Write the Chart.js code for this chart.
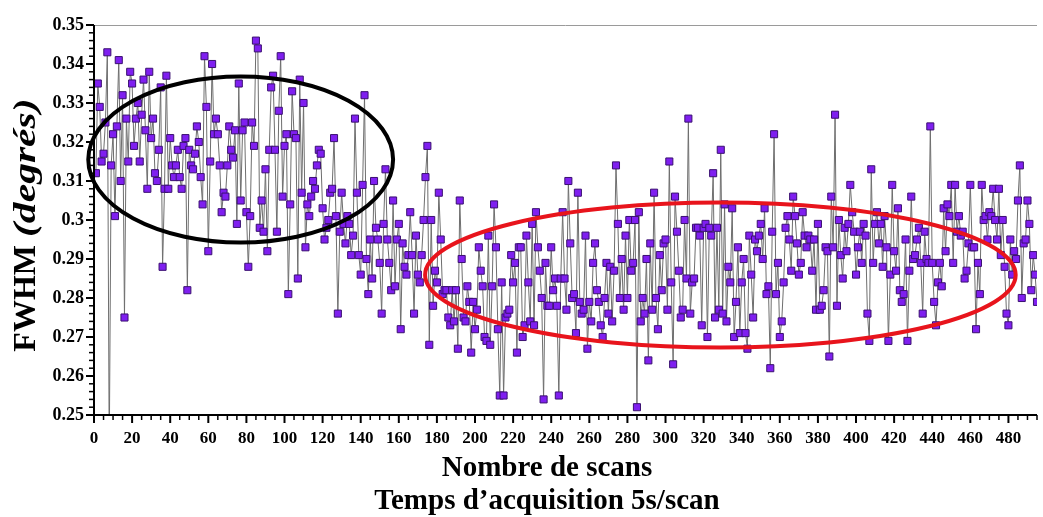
<!DOCTYPE html>
<html><head><meta charset="utf-8">
<script src="https://cdn.jsdelivr.net/npm/chart.js@4/dist/chart.umd.min.js"></script>
<style>html,body{margin:0;padding:0;background:#fff;overflow:hidden}#wrap{width:1043px;height:517px;position:relative}</style>
</head><body><div id="wrap"><canvas id="c" width="1043" height="517"></canvas></div>
<script>
const firstScan = 1;
const fwhmScans001to100 = [
0.312,0.335,0.329,0.315,0.317,0.325,0.343,0.240,0.314,0.322,
0.301,0.324,0.341,0.310,0.332,0.275,0.326,0.315,0.338,0.335,
0.319,0.326,0.330,0.315,0.327,0.336,0.323,0.308,0.338,0.321,
0.326,0.312,0.310,0.318,0.334,0.288,0.308,0.337,0.308,0.321,
0.314,0.311,0.314,0.318,0.311,0.308,0.319,0.321,0.282,0.318,
0.314,0.313,0.317,0.324,0.320,0.311,0.304,0.342,0.329,0.292,
0.315,0.340,0.322,0.326,0.322,0.314,0.302,0.307,0.306,0.314,
0.324,0.318,0.316,0.323,0.299,0.335,0.305,0.323,0.325,0.302,
0.288,0.301,0.325,0.319,0.346,0.344,0.298,0.305,0.297,0.313,
0.292,0.318,0.334,0.337,0.318,0.297,0.328,0.342,0.306,0.319];
const fwhmScans101to200 = [
0.322,0.281,0.304,0.333,0.322,0.321,0.285,0.336,0.307,0.330,
0.293,0.304,0.301,0.306,0.310,0.308,0.314,0.318,0.317,0.303,
0.295,0.298,0.300,0.307,0.308,0.321,0.301,0.276,0.297,0.307,
0.299,0.294,0.301,0.299,0.291,0.296,0.326,0.307,0.291,0.286,
0.309,0.332,0.290,0.281,0.295,0.285,0.310,0.298,0.295,0.289,
0.276,0.299,0.313,0.295,0.289,0.282,0.305,0.283,0.295,0.299,
0.272,0.294,0.288,0.286,0.291,0.302,0.291,0.276,0.296,0.286,
0.284,0.291,0.300,0.311,0.319,0.268,0.300,0.278,0.287,0.284,
0.307,0.295,0.281,0.282,0.282,0.275,0.273,0.282,0.274,0.282,
0.267,0.305,0.290,0.275,0.274,0.283,0.279,0.266,0.279,0.272];
const fwhmScans201to300 = [
0.277,0.293,0.287,0.283,0.270,0.269,0.296,0.268,0.283,0.304,
0.293,0.272,0.255,0.284,0.255,0.275,0.276,0.277,0.291,0.284,
0.289,0.266,0.293,0.293,0.270,0.273,0.296,0.284,0.274,0.299,
0.273,0.302,0.293,0.287,0.280,0.254,0.289,0.278,0.278,0.293,
0.282,0.285,0.278,0.255,0.285,0.302,0.285,0.277,0.310,0.294,
0.280,0.281,0.271,0.307,0.279,0.276,0.277,0.296,0.267,0.279,
0.274,0.289,0.294,0.282,0.279,0.273,0.270,0.280,0.289,0.276,
0.288,0.274,0.287,0.314,0.299,0.280,0.290,0.277,0.296,0.280,
0.300,0.287,0.289,0.300,0.252,0.302,0.274,0.280,0.276,0.290,
0.264,0.294,0.277,0.307,0.280,0.272,0.291,0.282,0.294,0.295];
const fwhmScans301to400 = [
0.277,0.315,0.284,0.263,0.306,0.297,0.287,0.275,0.277,0.300,
0.285,0.326,0.276,0.284,0.285,0.298,0.298,0.296,0.273,0.298,
0.299,0.270,0.298,0.296,0.312,0.275,0.298,0.277,0.318,0.276,
0.304,0.274,0.288,0.284,0.303,0.270,0.279,0.293,0.271,0.284,
0.290,0.271,0.267,0.296,0.286,0.275,0.295,0.292,0.296,0.299,
0.290,0.303,0.281,0.283,0.262,0.297,0.322,0.281,0.289,0.270,
0.274,0.284,0.298,0.301,0.295,0.287,0.306,0.301,0.294,0.286,
0.289,0.302,0.296,0.293,0.296,0.295,0.287,0.295,0.277,0.299,
0.277,0.278,0.282,0.293,0.292,0.265,0.306,0.293,0.327,0.278,
0.300,0.291,0.285,0.298,0.292,0.299,0.309,0.302,0.297,0.286];
const fwhmScans401to495 = [
0.293,0.297,0.289,0.299,0.296,0.276,0.269,0.313,0.289,0.299,
0.302,0.294,0.299,0.288,0.301,0.293,0.269,0.286,0.309,0.292,
0.287,0.303,0.282,0.279,0.281,0.295,0.269,0.287,0.306,0.290,
0.291,0.295,0.298,0.289,0.276,0.297,0.290,0.289,0.324,0.289,
0.279,0.273,0.284,0.289,0.283,0.303,0.292,0.304,0.301,0.309,
0.289,0.309,0.297,0.301,0.296,0.297,0.285,0.287,0.294,0.309,
0.293,0.293,0.272,0.289,0.281,0.309,0.300,0.301,0.295,0.302,
0.301,0.308,0.300,0.295,0.308,0.291,0.300,0.288,0.276,0.273,
0.295,0.286,0.292,0.290,0.305,0.314,0.280,0.294,0.295,0.305,
0.299,0.282,0.291,0.286,0.279];

const xTickValues = [0,20,40,60,80,100,120,140,160,180,200,220,240,260,280,300,320,340,360,380,400,420,440,460,480];
const xTickLabels = ['0','20','40','60','80','100','120','140','160','180','200','220','240','260','280','300','320','340','360','380','400','420','440','460','480'];
const yTickValues = [0.25,0.26,0.27,0.28,0.29,0.30,0.31,0.32,0.33,0.34,0.35];
const yTickLabels = ['0.25','0.26','0.27','0.28','0.29','0.3','0.31','0.32','0.33','0.34','0.35'];
const xTitleLines = ['Nombre de scans', 'Temps d\u2019acquisition 5s/scan'];
const yTitleParts = ['FWHM', '(degrés)'];

// highlight ellipses in data units (center scan, center FWHM, radius in scans, radius in FWHM)
const highlightBlack = {cx: 77, cy: 0.3155, rx: 80, ry: 0.0213};
const highlightRed = {cx: 328.8, cy: 0.2859, rx: 155, ry: 0.0186};

const fwhm = [].concat(fwhmScans001to100, fwhmScans101to200, fwhmScans201to300, fwhmScans301to400, fwhmScans401to495);
const points = fwhm.map((v, i) => ({x: firstScan + i, y: v}));

const SERIF = '"Liberation Serif", "Times New Roman", serif';

const decorPlugin = {
  id: 'decor',
  afterDatasetsDraw(chart) {
    const {ctx, scales: {x, y}} = chart;
    ctx.save();
    ctx.lineWidth = 4;
    [[highlightBlack, '#000000'], [highlightRed, '#e8141c']].forEach(([e, col]) => {
      const cx = x.getPixelForValue(e.cx), cy = y.getPixelForValue(e.cy);
      const rx = Math.abs(x.getPixelForValue(e.cx + e.rx) - cx);
      const ry = Math.abs(y.getPixelForValue(e.cy + e.ry) - cy);
      ctx.strokeStyle = col;
      ctx.beginPath();
      ctx.ellipse(cx, cy, rx, ry, 0, 0, Math.PI * 2);
      ctx.stroke();
    });
    ctx.restore();
  },
  afterDraw(chart) {
    const {ctx, chartArea: a, scales: {x, y}} = chart;
    ctx.save();
    ctx.strokeStyle = '#9a9a9a';
    ctx.lineWidth = 1;
    ctx.beginPath(); ctx.moveTo(a.left, a.top + 0.5); ctx.lineTo(a.right, a.top + 0.5); ctx.stroke();
    ctx.strokeStyle = '#000';
    ctx.lineWidth = 2;
    ctx.beginPath(); ctx.moveTo(a.left, a.top); ctx.lineTo(a.left, a.bottom); ctx.lineTo(a.right, a.bottom); ctx.stroke();
    for (let v = 0; v <= x.max + 1e-9; v += 5) {
      const px = x.getPixelForValue(v);
      const major = v % 20 === 0;
      ctx.lineWidth = major ? 2 : 1.5;
      ctx.beginPath(); ctx.moveTo(px, a.bottom); ctx.lineTo(px, a.bottom + (major ? 8 : 5)); ctx.stroke();
    }
    for (let k = 0; k <= 50; k++) {
      const py = y.getPixelForValue(y.min + k * 0.002);
      const major = k % 5 === 0;
      ctx.lineWidth = major ? 2 : 1.5;
      ctx.beginPath(); ctx.moveTo(a.left - (major ? 8 : 5), py); ctx.lineTo(a.left, py); ctx.stroke();
    }
    ctx.fillStyle = '#000';
    ctx.textAlign = 'center';
    ctx.textBaseline = 'alphabetic';
    ctx.font = 'bold 29px ' + SERIF;
    ctx.fillText(xTitleLines[0], 547, 476);
    ctx.fillText(xTitleLines[1], 547, 509);
    // y title: rotated; "(degrés)" italic
    ctx.translate(35, 225);
    ctx.rotate(-Math.PI / 2);
    const f1 = 'bold 32px ' + SERIF, f2 = 'italic bold 32px ' + SERIF;
    const stretch2 = 1.3;
    ctx.font = f1; const w1 = ctx.measureText(yTitleParts[0] + ' ').width;
    ctx.font = f2; const w2 = ctx.measureText(yTitleParts[1]).width * stretch2;
    let sx = -(w1 + w2) / 2;
    ctx.textAlign = 'left';
    ctx.font = f1; ctx.fillText(yTitleParts[0] + ' ', sx, 0); sx += w1;
    ctx.font = f2; ctx.save(); ctx.translate(sx, 0); ctx.scale(stretch2, 1); ctx.fillText(yTitleParts[1], 0, 0); ctx.restore();
    ctx.restore();
  }
};

new Chart(document.getElementById('c'), {
  type: 'line',
  data: {
    datasets: [{
      data: points,
      borderColor: '#6e6e6e',
      borderWidth: 1,
      pointStyle: 'rect',
      pointRadius: 5,
      pointBackgroundColor: '#7f1ff0',
      pointBorderColor: '#3a1070',
      pointBorderWidth: 1,
      tension: 0,
      fill: false
    }]
  },
  options: {
    responsive: false,
    animation: false,
    events: [],
    layout: {padding: {top: 25, right: 0, bottom: 0, left: 0}},
    plugins: {legend: {display: false}, tooltip: {enabled: false}},
    scales: {
      x: {
        type: 'linear', min: 0, max: 495,
        grid: {display: false}, border: {display: false},
        afterBuildTicks: s => { s.ticks = xTickValues.map(v => ({value: v})); },
        afterFit: s => { s.height = 102; },
        ticks: {
          padding: 5, color: '#000', maxRotation: 0, autoSkip: false,
          font: {family: SERIF, size: 17, weight: 'bold'},
          callback: v => { const i = xTickValues.indexOf(v); return i >= 0 ? xTickLabels[i] : ''; }
        }
      },
      y: {
        type: 'linear', min: 0.25, max: 0.35,
        grid: {display: false}, border: {display: false},
        afterBuildTicks: s => { s.ticks = yTickValues.map(v => ({value: v})); },
        afterFit: s => { s.width = 94; },
        ticks: {
          padding: 2, color: '#000', autoSkip: false,
          font: {family: SERIF, size: 18, weight: 'bold'},
          callback: v => { const i = yTickValues.findIndex(t => Math.abs(t - v) < 1e-6); return i >= 0 ? yTickLabels[i] : ''; }
        }
      }
    }
  },
  plugins: [decorPlugin]
});
</script>
</body></html>
